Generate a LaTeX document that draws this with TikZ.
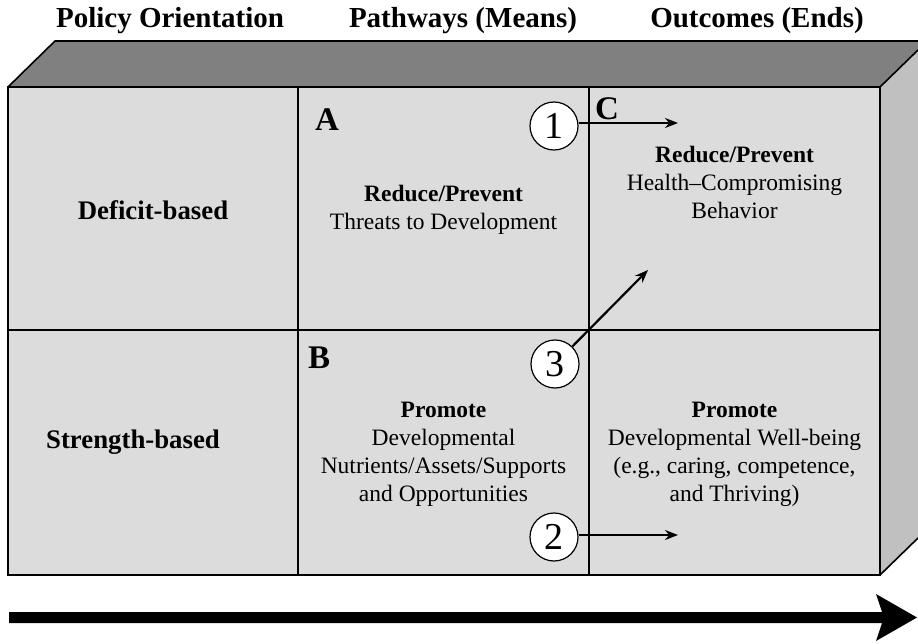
\documentclass[tikz,border=0pt]{standalone}
\usepackage{fontspec}
\setmainfont{Liberation Serif}
\usetikzlibrary{arrows.meta}
\definecolor{facefront}{HTML}{DCDCDC}
\definecolor{facetop}{HTML}{808080}
\definecolor{faceside}{HTML}{C0C0C0}
\tikzset{
  hdr/.style={anchor=base,font=\fontsize{29}{32}\selectfont\bfseries},
  rowlab/.style={font=\fontsize{26.8}{30}\selectfont\bfseries},
  cell/.style={align=center,font=\fontsize{23.5}{28}\selectfont},
  letter/.style={anchor=base west,inner sep=0pt,font=\fontsize{33}{34}\selectfont\bfseries},
  num/.style={circle,draw,line width=1.2pt,fill=white,minimum size=48pt,inner sep=0pt,font=\fontsize{38}{38}\selectfont},
  edge/.style={line width=1.6pt},
  conn/.style={line width=2.2pt,-{Stealth[length=13pt,width=10pt]}}
}
\begin{document}
\begin{tikzpicture}[x=1pt,y=-1pt]
\useasboundingbox (0,0) rectangle (918,644);
% faces
\fill[facetop] (8,87) -- (55,41) -- (918,41) -- (918,50) -- (880,87) -- cycle;
\fill[faceside] (880,87) -- (918,50) -- (918,538) -- (880,575) -- cycle;
\fill[facefront] (8,87) rectangle (880,575);
\draw[edge] (8,87) -- (55,41) -- (918,41);
\draw[edge] (880,87) -- (918,50);
\draw[edge] (880,575) -- (918,538);
\draw[edge] (8,87) rectangle (880,575);
\draw[edge] (298,87) -- (298,575);
\draw[edge] (589,87) -- (589,575);
\draw[edge] (8,330) -- (880,330);
% headers
\node[hdr] (h1) at (170,28) {Policy Orientation};
\node[hdr] (h2) at (463,28) {Pathways (Means)};
\node[hdr] (h3) at (757,28) {Outcomes (Ends)};
% row labels
\node[rowlab] (r1) at (153,210) {Deficit-based};
\node[rowlab] (r2) at (133,442) {Strength-based};
% letters
\node[letter] (la) at (315,131) {A};
\node[letter] (lb) at (308,368) {B};
\node[letter] (lc) at (595,120) {C};
% cell texts
\node[cell] (ta) at (443.5,209.5) {\textbf{Reduce/Prevent}\\Threats to Development};
\node[cell] (tc) at (734.5,182.5) {\textbf{Reduce/Prevent}\\Health--Compromising\\Behavior};
\node[cell] (tb) at (443.5,454.5) {\textbf{Promote}\\Developmental\\Nutrients/Assets/Supports\\and Opportunities};
\node[cell] (td) at (734.5,454.5) {\textbf{Promote}\\Developmental Well-being\\(e.g., caring, competence,\\and Thriving)};
% numbered circles and arrows
\node[num] (c1) at (554,126) {1};
\node[num] (c3) at (555,364) {3};
\node[num] (c2) at (554,537) {2};
\coordinate (e1) at (678,123);
\coordinate (e3) at (648,270);
\coordinate (e2) at (678,535);
\draw[conn] (c1.east |- e1) -- (e1);
\draw[conn] (c3) -- (e3);
\draw[conn] (c2.east |- e2) -- (e2);
% big bottom arrow
\coordinate (bs) at (9,617.5);
\coordinate (bt) at (917,617.5);
\fill (bs) ++(0,-5.5) -- (882,612) -- (876,594) -- (bt) -- (876,641) -- (882,623) -- (9,623) -- cycle;
\end{tikzpicture}
\end{document}
